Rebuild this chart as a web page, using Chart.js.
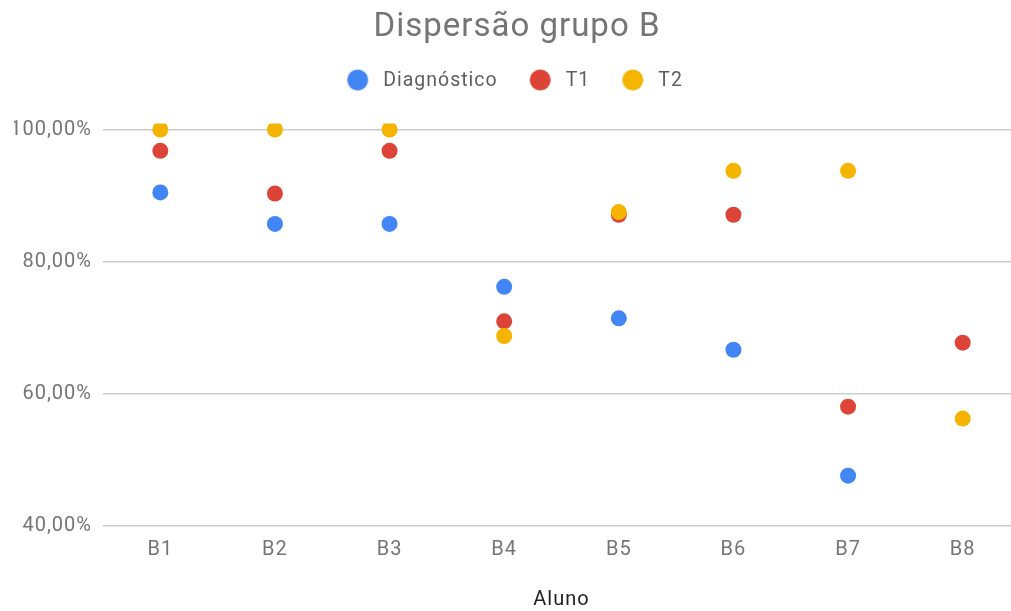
<!DOCTYPE html>
<html>
<head>
<meta charset="utf-8">
<script src="https://cdn.jsdelivr.net/npm/chart.js@4"></script>
<style>
  html, body { margin: 0; padding: 0; overflow: hidden; background: #ffffff; }
  #wrap { position: relative; width: 1030px; height: 611px; }
</style>
</head>
<body>
<div id="wrap"><canvas id="c"></canvas></div>
<script>
const categories = ['B1', 'B2', 'B3', 'B4', 'B5', 'B6', 'B7', 'B8'];
const diagnostico = [90.48, 85.71, 85.71, 76.19, 71.43, 66.67, 47.62, null];
const t1 = [96.77, 90.32, 96.77, 70.97, 87.10, 87.10, 58.06, 67.74];
const t2 = [100, 100, 100, 68.75, 87.5, 93.75, 93.75, 56.25];
const yTicks = [40, 60, 80, 100];
const seriesNames = ['Diagnóstico', 'T1', 'T2'];
const seriesColors = ['#4285F4', '#DB4437', '#F4B400'];

const FONT = 'Roboto';
const LETTER_SPACING = '1px';

// legend swatch: a filled circle inside a small canvas
function legendSwatch(color) {
  const c = document.createElement('canvas');
  c.width = 26; c.height = 26;
  const g = c.getContext('2d');
  g.fillStyle = color;
  g.beginPath();
  g.arc(11.4, 12.25, 10.5, 0, Math.PI * 2);
  g.fill();
  return c;
}

function ds(i, data, order) {
  return {
    label: seriesNames[i],
    data: data,
    showLine: false,
    backgroundColor: seriesColors[i],
    borderColor: seriesColors[i],
    pointBackgroundColor: seriesColors[i],
    pointBorderColor: seriesColors[i],
    pointRadius: 8,
    pointHoverRadius: 8,
    pointBorderWidth: 0,
    order: order,
    clip: { left: 30, right: 30, top: 6, bottom: 30 }
  };
}

const spacingPlugin = {
  id: 'spacing',
  beforeUpdate(chart) { chart.ctx.letterSpacing = LETTER_SPACING; },
  beforeLayout(chart) {
    chart.ctx.letterSpacing = LETTER_SPACING;
    const lg = chart.legend;
    if (lg && !lg._extraPatched) {
      const fit = lg.fit.bind(lg);
      lg.fit = function () {
        fit();
        this.height += 29;
        if (this.lineWidths && this.lineWidths.length) this.lineWidths[0] += 6;
      };
      lg._extraPatched = true;
    }
  },
  beforeDraw(chart) { chart.ctx.letterSpacing = LETTER_SPACING; }
};

new Chart(document.getElementById('c'), {
  type: 'line',
  data: {
    labels: categories,
    datasets: [ds(0, diagnostico, 2), ds(1, t1, 1), ds(2, t2, 0)]
  },
  plugins: [spacingPlugin],
  options: {
    responsive: true,
    maintainAspectRatio: false,
    animation: false,
    layout: { padding: { left: 14, right: 10, top: 0, bottom: 0 } },
    plugins: {
      title: {
        display: true,
        text: 'Dispersão grupo B',
        color: '#757575',
        font: { family: FONT, size: 33, weight: 'normal', lineHeight: 0.8 },
        padding: { top: 14.6, bottom: 0 }
      },
      legend: {
        display: true,
        position: 'top',
        labels: {
          usePointStyle: true,
          pointStyleWidth: 28.25,
          boxHeight: 20,
          color: '#5f5f5f',
          font: { family: FONT, size: 19.5 },
          padding: 30,
          sort: (a, b) => a.datasetIndex - b.datasetIndex,
          generateLabels: (chart) => {
            const items = Chart.defaults.plugins.legend.labels.generateLabels(chart);
            items.forEach(it => { it.pointStyle = legendSwatch(seriesColors[it.datasetIndex]); });
            return items;
          }
        }
      },
      tooltip: { enabled: false }
    },
    scales: {
      x: {
        type: 'category',
        offset: true,
        grid: { display: false, drawTicks: false },
        border: { display: false },
        ticks: { color: '#757575', font: { family: FONT, size: 20 }, padding: 12 },
        title: {
          display: true,
          text: 'Aluno',
          color: '#222222',
          font: { family: FONT, size: 20, lineHeight: 1 },
          padding: { top: 0, bottom: 1 }
        },
        afterFit: (s) => { s.height = 85; }
      },
      y: {
        min: 40,
        max: 100,
        afterBuildTicks: (s) => { s.ticks = yTicks.map(v => ({ value: v })); },
        grid: { color: '#cccccc', lineWidth: 1.5, drawTicks: false },
        border: { display: false },
        ticks: {
          color: '#757575',
          font: { family: FONT, size: 20 },
          padding: 11,
          callback: (v) => v.toFixed(2).replace('.', ',') + '%'
        },
        afterFit: (s) => { s.width = 89; }
      }
    }
  }
});
</script>
</body>
</html>
